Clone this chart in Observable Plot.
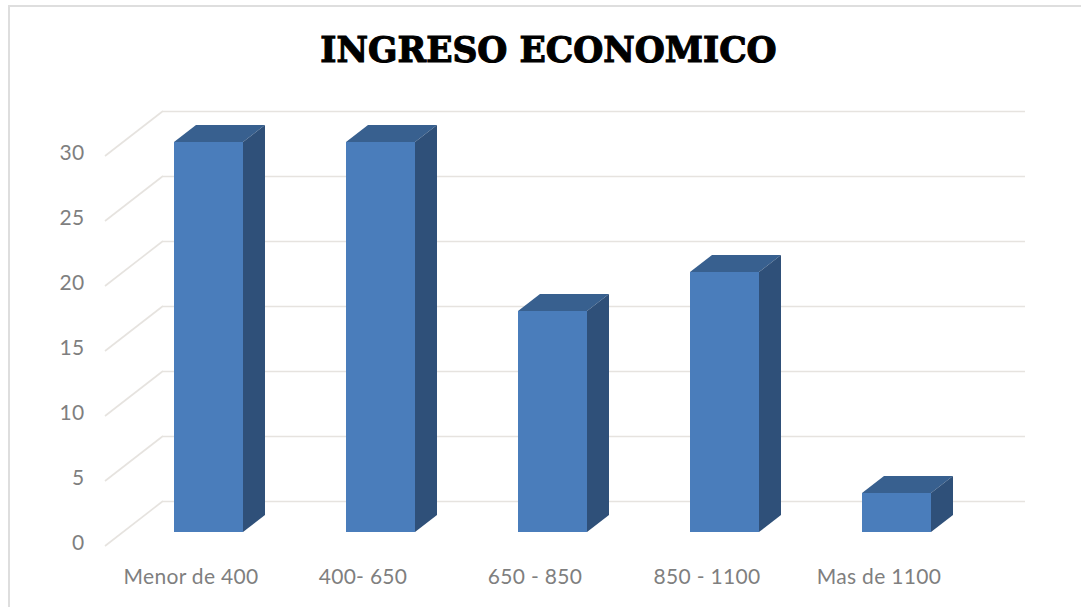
<!DOCTYPE html>
<html>
<head>
<meta charset="utf-8">
<script src="https://cdn.jsdelivr.net/npm/d3@7"></script>
<script src="https://cdn.jsdelivr.net/npm/@observablehq/plot@0.6"></script>
<style>
  html, body { margin: 0; background: #fff; }
  #chart { position: relative; width: 1081px; height: 607px; overflow: hidden; }
  #frame { position: absolute; left: 8px; top: 5px; width: 1090px; height: 640px; border: 2px solid #dedede; }
  #title {
    position: absolute; left: 0; top: 28px; width: 1097px; text-align: center;
    font: 900 34.5px/44px "DejaVu Serif", serif; color: #000;
    -webkit-text-stroke: 1.1px #000;
  }
  #plot { position: absolute; left: 0; top: 84px; }
  svg { background: transparent !important; }
</style>
</head>
<body>
<div id="chart">
  <div id="frame"></div>
  <div id="title">INGRESO ECONOMICO</div>
  <div id="plot"></div>
</div>
<script>
const categories = ["Menor de 400", "400- 650", "650 - 850", "850 - 1100", "Mas de 1100"];
const counts = [30, 30, 17, 20, 3];
const tickValues = [0, 5, 10, 15, 20, 25, 30];

const rows = categories.map((category, i) => ({category, count: counts[i]}));

const colors = {front: "#4a7dbb", top: "#38608f", side: "#2f5079", grid: "#e6e3df", text: "#7f7f7f"};

// Projection offsets of the pseudo-3D bars and of the chart floor, in pixels.
const depth = {x: 22, y: 17};
const wall = {dy: -31};
const floor = {x1: 105, x2: 163, front: 14, back: -31};

// Diagonal floor and side-wall lines running from the axis to the back wall.
function sideGrid(index, {y}) {
  const g = d3.create("svg:g");
  g.selectAll("line").data(tickValues).join("line")
    .attr("x1", floor.x1).attr("x2", floor.x2)
    .attr("y1", (v) => y(v) + floor.front)
    .attr("y2", (v) => y(v) + floor.back)
    .attr("stroke", colors.grid).attr("stroke-width", 1.6);
  return g.node();
}

// Top and right faces of every bar, derived from the same scales as the front face.
function barFaces(index, {x, y}) {
  const g = d3.create("svg:g");
  const w = x.bandwidth();
  for (const {category, count} of rows) {
    const left = x(category), right = left + w, top = y(count), base = y(0);
    g.append("polygon")
      .attr("fill", colors.top)
      .attr("points", [[left, top], [left + depth.x, top - depth.y], [right + depth.x, top - depth.y], [right, top]].join(" "));
    g.append("polygon")
      .attr("fill", colors.side)
      .attr("points", [[right, top], [right + depth.x, top - depth.y], [right + depth.x, base - depth.y], [right, base]].join(" "));
  }
  return g.node();
}

const chart = Plot.plot({
  width: 1081,
  height: 523,
  marginLeft: 163,
  marginRight: 56,
  marginTop: 20,
  marginBottom: 40,
  style: {fontFamily: "Lato, sans-serif", fontSize: "21px", letterSpacing: "0.3px", color: colors.text, background: "transparent"},
  x: {domain: categories, range: [121, 984], paddingInner: 0.6, paddingOuter: 0.3, label: null},
  y: {domain: [0, 30], range: [448, 58], label: null},
  marks: [
    Plot.ruleY(tickValues, {stroke: colors.grid, strokeWidth: 1.6, dy: wall.dy}),
    sideGrid,
    barFaces,
    Plot.barY(rows, {x: "category", y: "count", fill: colors.front}),
    Plot.axisY({ticks: tickValues, anchor: "left", tickSize: 0, tickPadding: 0, dx: -79, dy: 11, fill: colors.text, label: null}),
    Plot.axisX({anchor: "bottom", tickSize: 0, tickPadding: 0, dx: -18, dy: 2, fill: colors.text, label: null})
  ]
});
document.getElementById("plot").append(chart);
</script>
</body>
</html>
